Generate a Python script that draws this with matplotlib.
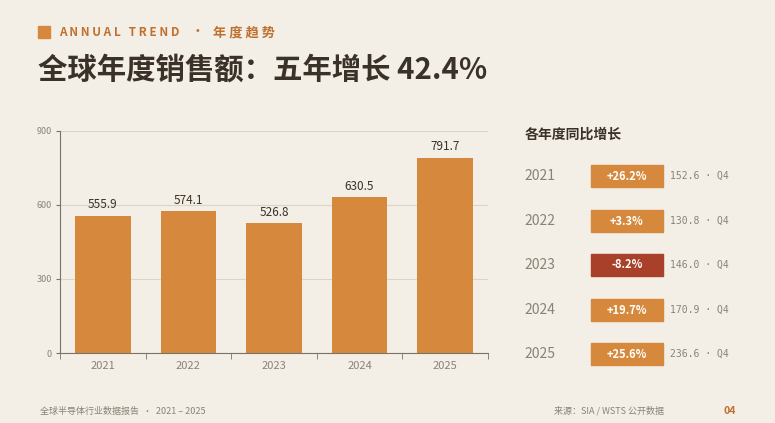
import matplotlib.pyplot as plt
from matplotlib.patches import Rectangle

plt.rcParams['font.family'] = ['Noto Sans CJK SC', 'DejaVu Sans']

years = ['2021', '2022', '2023', '2024', '2025']
sales = [555.9, 574.1, 526.8, 630.5, 791.7]
yoy = [26.2, 3.3, -8.2, 19.7, 25.6]
q4 = [152.6, 130.8, 146.0, 170.9, 236.6]
yticks = [0, 300, 600, 900]

bg = '#F3EEE6'
orange = '#D6893C'
red = '#A8402A'
dark = '#3A3228'
gray = '#8A8276'

fig = plt.figure(figsize=(7.75, 4.23), dpi=100, facecolor=bg)

# header
fig.patches.append(Rectangle((38 / 775, 1 - 38 / 423), 12 / 775, 12 / 423,
                             transform=fig.transFigure, color=orange))
fig.text(59 / 775, 1 - 32 / 423, 'A N N U A L   T R E N D',
         fontsize=8.5, fontweight='bold', color='#C0702E', va='center')
fig.text(192 / 775, 1 - 32 / 423, '·',
         fontsize=8.5, fontweight='bold', color='#C0702E', va='center')
fig.text(213 / 775, 1 - 32 / 423, '年 度 趋 势',
         fontsize=9.5, fontweight='bold', color='#C0702E', va='center')
fig.text(38 / 775, 1 - 70 / 423, '全球年度销售额：五年增长 42.4%',
         fontsize=21.2, fontweight='bold', color=dark, va='center')

# bar chart
ax = fig.add_axes([60 / 775, 1 - 353 / 423, 428 / 775, 222 / 423])
ax.set_facecolor(bg)
x = range(len(years))
ax.bar(x, sales, width=0.65, color=orange, zorder=2)
for i, v in enumerate(sales):
    ax.text(i, v + 18, f'{v:.1f}', ha='center', va='bottom', fontsize=8.5, color=dark)
ax.set_ylim(0, 900)
ax.set_xlim(-0.5, len(years) - 0.5)
ax.set_yticks(yticks)
ax.set_yticklabels([str(t) for t in yticks], fontsize=6.5, color=gray)
ax.set_xticks(list(x))
ax.set_xticklabels(years, fontsize=8, color=gray)
ax.set_xticks([i - 0.5 for i in range(len(years) + 1)], minor=True)
ax.tick_params(axis='x', which='major', length=0, pad=6)
ax.tick_params(axis='x', which='minor', length=4, color='#7A7268')
ax.tick_params(axis='y', length=3, color='#7A7268', pad=3)
ax.grid(axis='y', color='#DDD5C4', linewidth=0.8, zorder=0)
for s in ['top', 'right']:
    ax.spines[s].set_visible(False)
for s in ['left', 'bottom']:
    ax.spines[s].set_color('#7A7268')
    ax.spines[s].set_linewidth(0.8)

# right panel
fig.text(525 / 775, 1 - 135 / 423, '各年度同比增长', fontsize=10, fontweight='bold',
         color=dark, va='center')
row_y = [176, 221, 265, 310, 354]
for yr, g, q, py in zip(years, yoy, q4, row_y):
    yf = 1 - py / 423
    fig.text(524 / 775, yf, yr, fontsize=10, color=gray, va='center')
    c = red if g < 0 else orange
    fig.patches.append(Rectangle((591 / 775, yf - 11 / 423), 72 / 775, 22 / 423,
                                 transform=fig.transFigure, color=c))
    fig.text(627 / 775, yf, f'{g:+.1f}%', fontsize=8, fontweight='bold',
             color='white', ha='center', va='center')
    fig.text(670 / 775, yf, f'{q:.1f} · Q4', fontsize=7, color=gray, va='center',
             family=['DejaVu Sans Mono', 'Noto Sans CJK SC'])

# footer
fig.text(40 / 775, 1 - 411 / 423, '全球半导体行业数据报告  ·  2021 – 2025',
         fontsize=6.5, color=gray, va='center')
fig.text(554 / 775, 1 - 411 / 423, '来源：SIA / WSTS 公开数据',
         fontsize=6.5, color=gray, va='center')
fig.text(724 / 775, 1 - 411 / 423, '04', fontsize=7.5, fontweight='bold',
         color='#C0702E', va='center')

fig.savefig('out.png', dpi=100, facecolor=bg)
